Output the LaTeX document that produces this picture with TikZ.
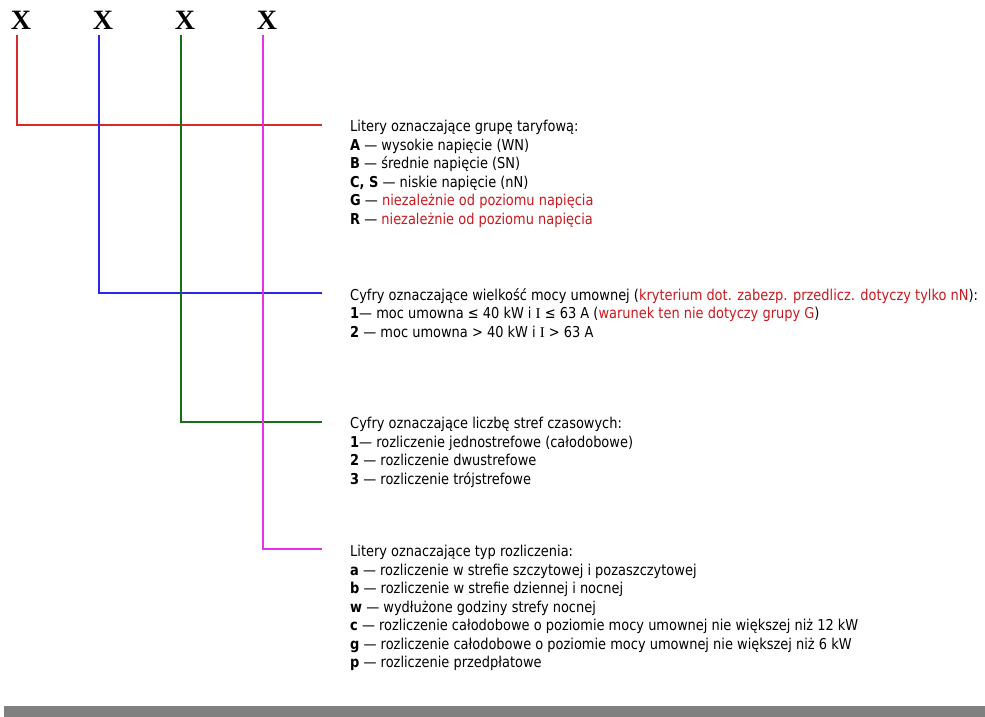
\documentclass[tikz,border=0pt]{standalone}
\usepackage{fontspec}
\setmainfont{DejaVu Sans}[FakeStretch=0.865]
\newfontfamily\serifX{Liberation Serif}
\usetikzlibrary{positioning}

\definecolor{linered}{RGB}{220,40,40}
\definecolor{lineblue}{RGB}{40,40,230}
\definecolor{linegreen}{RGB}{25,110,25}
\definecolor{linemagenta}{RGB}{230,50,230}
\definecolor{notered}{RGB}{200,25,30}
\definecolor{bargray}{RGB}{128,128,128}

\newcommand{\uwaga}[1]{\textcolor{notered}{#1}}

\tikzset{
  digit/.style={inner sep=0pt, font=\serifX\bfseries\fontsize{28}{28}\selectfont},
  legend/.style={inner sep=0pt, anchor=north west, align=left,
    font=\fontsize{15}{18.5}\selectfont},
  wire/.style={line width=2pt}
}

\begin{document}
\begin{tikzpicture}[x=1pt, y=-1pt]
  \useasboundingbox (0,0) rectangle (985,717);

  % the four positions of the code
  \node[digit] (x1) at (21,20) {X};
  \node[digit] (x2) at (103,20) {X};
  \node[digit] (x3) at (185,20) {X};
  \node[digit] (x4) at (267,20) {X};

  % ends of the branches
  \coordinate (e1) at (322,125);
  \coordinate (e2) at (322,293);
  \coordinate (e3) at (322,422);
  \coordinate (e4) at (322,549);

  % descriptions
  \node[legend] (t1) at ([xshift=28pt, yshift=5pt]e1) {%
    Litery oznaczające grupę taryfową:\\
    \textbf{A} — wysokie napięcie (WN)\\
    \textbf{B} — średnie napięcie (SN)\\
    \textbf{C, S} — niskie napięcie (nN)\\
    \textbf{G} — \uwaga{niezależnie od poziomu napięcia}\\
    \textbf{R} — \uwaga{niezależnie od poziomu napięcia}};
  \node[legend] (t2) at ([xshift=28pt, yshift=5pt]e2) {%
    Cyfry oznaczające wielkość mocy umownej (\uwaga{kryterium dot. zabezp. przedlicz. dotyczy tylko nN}):\\
    \textbf{1}— moc umowna ≤ 40 kW i {\serifX I} ≤ 63 A (\uwaga{warunek ten nie dotyczy grupy G})\\
    \textbf{2} — moc umowna > 40 kW i {\serifX I} > 63 A};
  \node[legend] (t3) at ([xshift=28pt, yshift=5pt]e3) {%
    Cyfry oznaczające liczbę stref czasowych:\\
    \textbf{1}— rozliczenie jednostrefowe (całodobowe)\\
    \textbf{2} — rozliczenie dwustrefowe\\
    \textbf{3} — rozliczenie trójstrefowe};
  \node[legend] (t4) at ([xshift=28pt, yshift=4pt]e4) {%
    Litery oznaczające typ rozliczenia:\\
    \textbf{a} — rozliczenie w strefie szczytowej i pozaszczytowej\\
    \textbf{b} — rozliczenie w strefie dziennej i nocnej\\
    \textbf{w} — wydłużone godziny strefy nocnej\\
    \textbf{c} — rozliczenie całodobowe o poziomie mocy umownej nie większej niż 12 kW\\
    \textbf{g} — rozliczenie całodobowe o poziomie mocy umownej nie większej niż 6 kW\\
    \textbf{p} — rozliczenie przedpłatowe};

  % branches, last drawn lies on top
  \draw[wire, linered] ([xshift=-4pt, yshift=-6pt]x1.south) |- (e1);
  \draw[wire, lineblue] ([xshift=-4pt, yshift=-6pt]x2.south) |- (e2);
  \draw[wire, linegreen] ([xshift=-4pt, yshift=-6pt]x3.south) |- (e3);
  \draw[wire, linemagenta] ([xshift=-4pt, yshift=-6pt]x4.south) |- (e4);

  % bar at the bottom
  \fill[bargray] (4,706) rectangle (985,717);
\end{tikzpicture}
\end{document}
